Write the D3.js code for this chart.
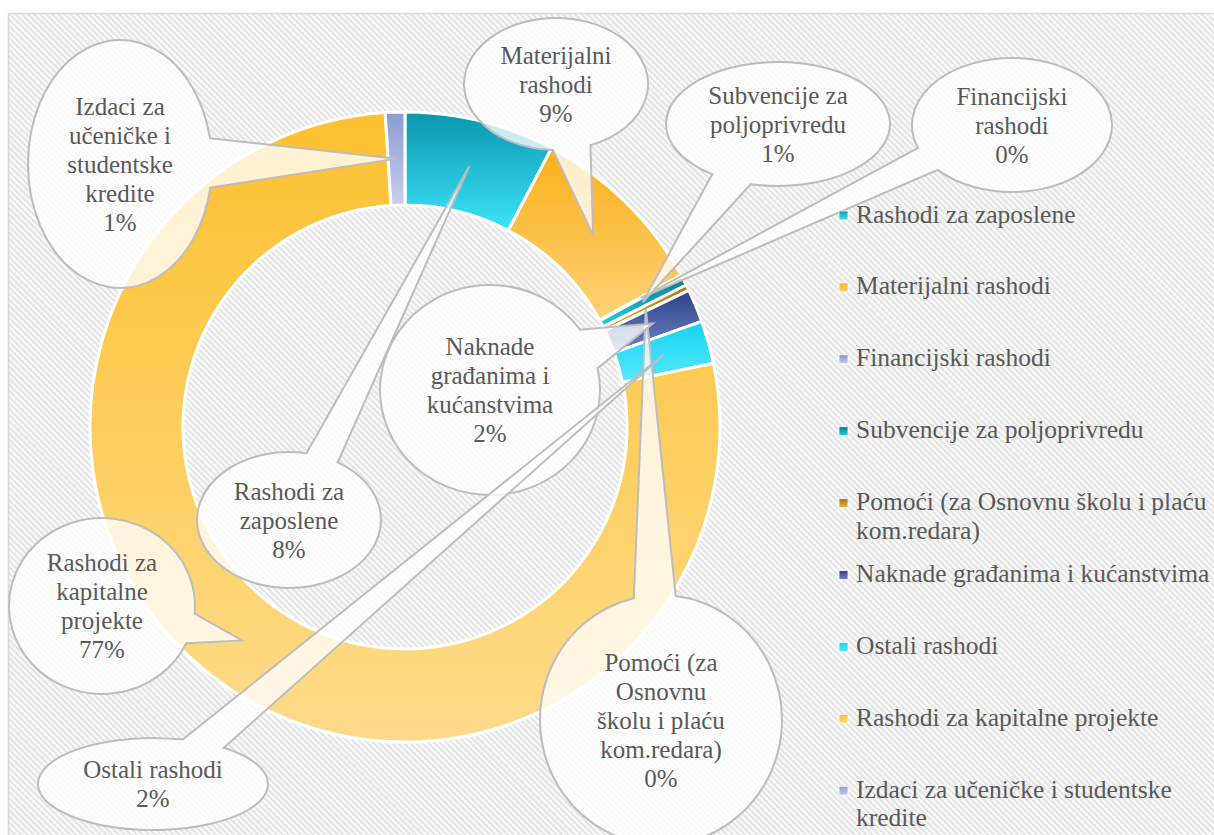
<!DOCTYPE html>
<html>
<head>
<meta charset="UTF-8">
<title>Rashodi</title>
<script src="https://cdn.jsdelivr.net/npm/d3@7"></script>
<style>
body {margin:0; background:#fff;}
text {font-family:"Liberation Serif", serif; fill:#595959;}
</style>
</head>
<body>
<svg width="1214" height="835"></svg>
<script>
// data
var categories = ["Rashodi za zaposlene", "Materijalni rashodi", "Financijski rashodi",
    "Subvencije za poljoprivredu", "Pomoći (za Osnovnu školu i plaću kom.redara)",
    "Naknade građanima i kućanstvima", "Ostali rashodi", "Rashodi za kapitalne projekte",
    "Izdaci za učeničke i studentske kredite"];
var values = [7.7, 9.3, 0.05, 0.5, 0.3, 1.7, 2.2, 77.2, 1.0];
var calloutText = ["Rashodi za\nzaposlene", "Materijalni\nrashodi", "Financijski\nrashodi",
    "Subvencije za\npoljoprivredu", "Pomoći (za\nOsnovnu\nškolu i plaću\nkom.redara)",
    "Naknade\ngrađanima i\nkućanstvima", "Ostali rashodi", "Rashodi za\nkapitalne\nprojekte",
    "Izdaci za\nučeničke i\nstudentske\nkredite"];
var topColors = ["#0a96ae", "#fbb019", "#8595cc", "#0b7585", "#a8720b", "#2f4184", "#16d2f0", "#fcc12f", "#8b9bd2"];
var bottomColors = ["#3ce4fb", "#fdd277", "#c3cceb", "#1fd3ec", "#e9b23a", "#6d84c9", "#55e8fc", "#fedb8b", "#c8d0ec"];

// label boxes (ellipse centre, radii, pointer base angles)
var boxes = [
    {cx:289, cy:520, rx:92, ry:68, a1:-79, a2:-58},
    {cx:556, cy:84, rx:92, ry:66, a1:68, a2:92},
    {cx:1012, cy:125, rx:100, ry:67, a1:138, a2:160},
    {cx:778, cy:124, rx:112, ry:62, a1:104, a2:126},
    {cx:661, cy:720, rx:121, ry:125, a1:257, a2:277},
    {cx:490, cy:390, rx:110, ry:105, a1:-35, a2:-12},
    {cx:153, cy:784, rx:115, ry:46, a1:-75, a2:-52},
    {cx:102, cy:606, rx:93, ry:88, a1:5, a2:25},
    {cx:120, cy:164, rx:92, ry:124, a1:-12, a2:11}
];

var svg = d3.select("svg");
var defs = svg.append("defs");

var pat = defs.append("pattern").attr("id", "hatch")
    .attr("width", 4.3).attr("height", 4.3)
    .attr("patternUnits", "userSpaceOnUse")
    .attr("patternTransform", "rotate(-45)");
pat.append("rect").attr("width", 4.3).attr("height", 4.3).attr("fill", "#fbfbfb");
pat.append("rect").attr("width", 2.1).attr("height", 4.3).attr("fill", "#e4e4e4");

categories.forEach(function(c, i) {
    var g = defs.append("linearGradient").attr("id", "grad" + i)
        .attr("x1", 0).attr("y1", 0).attr("x2", 0).attr("y2", 1);
    g.append("stop").attr("offset", "0%").attr("stop-color", topColors[i]);
    g.append("stop").attr("offset", "100%").attr("stop-color", bottomColors[i]);
});

//... chart area
svg.append("rect").attr("x", 8.5).attr("y", 13.5).attr("width", 1220).attr("height", 830)
    .attr("fill", "url(#hatch)").attr("stroke", "#d9d9d9").attr("stroke-width", 1.5);

//... doughnut
var cx = 405, cy = 427, outerR = 315, innerR = 222;
var total = d3.sum(values);
var arcs = d3.pie().sort(null).value(d => d)(values);
var arc = d3.arc().innerRadius(innerR).outerRadius(outerR);

var ring = svg.append("g").attr("transform", "translate(" + cx + "," + cy + ")");
ring.selectAll("path")
    .data(arcs)
    .join("path")
    .attr("d", arc)
    .attr("fill", (d, i) => "url(#grad" + i + ")")
    .attr("stroke", "#fff")
    .attr("stroke-width", 3)
    .attr("stroke-linejoin", "round");

//... callouts
var fmt = v => Math.round(v / total * 100) + "%";
var rad = a => a * Math.PI / 180;

var callouts = svg.append("g");
arcs.forEach(function(d, i) {
    var b = boxes[i];
    var c = arc.centroid(d);
    var tip = [cx + c[0], cy + c[1]];
    var s = [b.cx + b.rx * Math.cos(rad(b.a2)), b.cy + b.ry * Math.sin(rad(b.a2))];
    var e = [b.cx + b.rx * Math.cos(rad(b.a1)), b.cy + b.ry * Math.sin(rad(b.a1))];
    var g = callouts.append("g");
    g.append("path")
        .attr("d", "M" + s + " A" + b.rx + "," + b.ry + " 0 1 1 " + e + " L" + tip + " Z")
        .attr("fill", "rgba(255,255,255,0.78)")
        .attr("stroke", "#bdbdbd")
        .attr("stroke-width", 2)
        .attr("stroke-linejoin", "miter");
    var lines = calloutText[i].split("\n").concat([fmt(values[i])]);
    var n = lines.length;
    g.selectAll("text")
        .data(lines)
        .join("text")
        .attr("x", b.cx)
        .attr("y", (t, j) => b.cy + (j - (n - 1) / 2) * 29 + 8.5)
        .attr("text-anchor", "middle")
        .style("font-size", "25px")
        .text(t => t);
});

//... legend
var legend = svg.append("g");
var lx = 839, ly0 = 222.5, lstep = 71.9, maxW = 370;
categories.forEach(function(c, i) {
    var y = ly0 + i * lstep;
    legend.append("rect")
        .attr("x", lx).attr("y", y - 11.5)
        .attr("width", 9).attr("height", 9)
        .attr("fill", "url(#grad" + i + ")")
        .attr("stroke", "#fff").attr("stroke-width", 0.8);
    var t = legend.append("text")
        .attr("x", lx + 17).attr("y", y)
        .style("font-size", "25.5px");
    // wrap long names
    var words = c.split(" "), line = [];
    var ts = t.append("tspan").attr("x", lx + 17).attr("dy", 0);
    words.forEach(function(w) {
        line.push(w);
        ts.text(line.join(" "));
        if (ts.node().getComputedTextLength() > maxW && line.length > 1) {
            line.pop();
            ts.text(line.join(" "));
            line = [w];
            ts = t.append("tspan").attr("x", lx + 17).attr("dy", 28.5).text(w);
        }
    });
});
</script>
</body>
</html>
